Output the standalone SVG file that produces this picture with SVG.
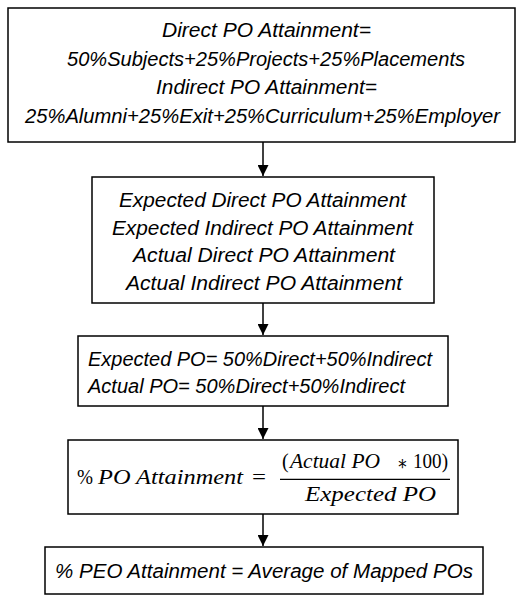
<svg xmlns="http://www.w3.org/2000/svg" width="523" height="597" viewBox="0 0 523 597">
<style>
.box{fill:#fff;stroke:#000;stroke-width:1.5}
.t{font-family:"Liberation Sans",Arial,sans-serif;font-style:italic;font-size:19.5px;fill:#000}
.m{font-family:"Liberation Serif","DejaVu Serif",serif;font-size:20px;fill:#000}
.mi{font-style:italic}
.c{stroke:#000;stroke-width:1.5;fill:none}
</style>
<defs>
<marker id="ah" markerUnits="userSpaceOnUse" markerWidth="11" markerHeight="11" viewBox="0 0 11 11" refX="11" refY="5.5" orient="auto">
<path d="M0,0 L11,5.5 L0,11 z" fill="#000"/>
</marker>
</defs>
<rect width="523" height="597" fill="#fff"/>
<g id="connectors">
<line class="c" x1="263" y1="142" x2="263" y2="176" marker-end="url(#ah)"/>
<line class="c" x1="263" y1="303" x2="263" y2="335" marker-end="url(#ah)"/>
<line class="c" x1="263" y1="406" x2="263" y2="439" marker-end="url(#ah)"/>
<line class="c" x1="263" y1="514" x2="263" y2="546" marker-end="url(#ah)"/>
</g>
<g id="node1">
<rect class="box" x="8" y="8" width="507" height="134"/>
<text class="t" x="162" y="37" textLength="209" lengthAdjust="spacingAndGlyphs">Direct PO Attainment=</text>
<text class="t" x="67" y="65.5" textLength="398" lengthAdjust="spacingAndGlyphs">50%Subjects+25%Projects+25%Placements</text>
<text class="t" x="156" y="94" textLength="221" lengthAdjust="spacingAndGlyphs">Indirect PO Attainment=</text>
<text class="t" x="25" y="122.5" textLength="475" lengthAdjust="spacingAndGlyphs">25%Alumni+25%Exit+25%Curriculum+25%Employer</text>
</g>
<g id="node2">
<rect class="box" x="92" y="177" width="342" height="126"/>
<text class="t" x="119" y="206.5" textLength="287" lengthAdjust="spacingAndGlyphs">Expected Direct PO Attainment</text>
<text class="t" x="112" y="234.5" textLength="301" lengthAdjust="spacingAndGlyphs">Expected Indirect PO Attainment</text>
<text class="t" x="133" y="262" textLength="262" lengthAdjust="spacingAndGlyphs">Actual Direct PO Attainment</text>
<text class="t" x="126" y="290" textLength="276" lengthAdjust="spacingAndGlyphs">Actual Indirect PO Attainment</text>
</g>
<g id="node3">
<rect class="box" x="78" y="336" width="370" height="70"/>
<text class="t" x="88" y="365.5" textLength="344" lengthAdjust="spacingAndGlyphs">Expected PO= 50%Direct+50%Indirect</text>
<text class="t" x="88" y="393" textLength="317" lengthAdjust="spacingAndGlyphs">Actual PO= 50%Direct+50%Indirect</text>
</g>
<g id="node4">
<rect class="box" x="68" y="440" width="390" height="74"/>
<text class="m" x="77" y="484" textLength="16" lengthAdjust="spacingAndGlyphs">%</text>
<text class="m mi" x="98" y="484" textLength="145" lengthAdjust="spacingAndGlyphs">PO Attainment</text>
<text class="m" x="252" y="484" textLength="14" lengthAdjust="spacingAndGlyphs">=</text>
<text class="m" x="282" y="468">(</text>
<text class="m mi" x="290" y="468" textLength="90" lengthAdjust="spacingAndGlyphs">Actual PO</text>
<text class="m" x="397" y="469.5" textLength="11" lengthAdjust="spacingAndGlyphs">∗</text>
<text class="m" x="413" y="468" textLength="35" lengthAdjust="spacingAndGlyphs">100)</text>
<line x1="280" y1="479.3" x2="450" y2="479.3" stroke="#000" stroke-width="1.3"/>
<text class="m mi" x="305" y="500.7" textLength="131" lengthAdjust="spacingAndGlyphs">Expected PO</text>
</g>
<g id="node5">
<rect class="box" x="45" y="547" width="438" height="47"/>
<text class="t" x="55" y="578" textLength="418" lengthAdjust="spacingAndGlyphs">% PEO Attainment = Average of Mapped POs</text>
</g>
</svg>
